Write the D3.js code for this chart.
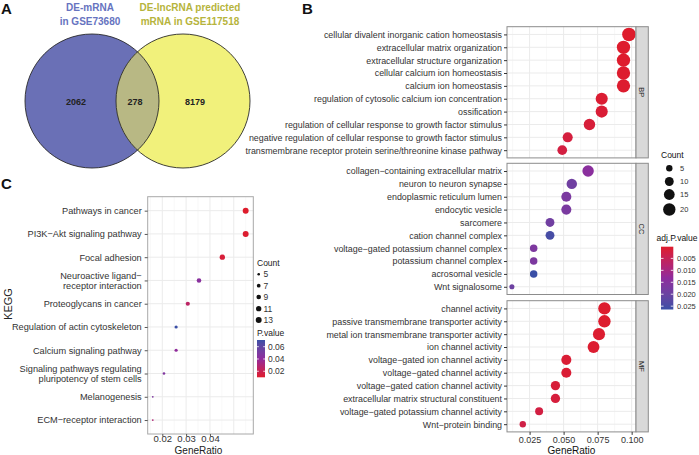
<!DOCTYPE html>
<html><head><meta charset="utf-8">
<script src="https://cdn.jsdelivr.net/npm/d3@7"></script>
<style>body{margin:0;background:#fff} svg{display:block;font-family:"Liberation Sans",Arial,sans-serif}</style>
</head><body><svg id="c" width="699" height="455"></svg>
<script>
// ---------------- DATA ----------------
const vennTitles1 = ["DE-mRNA", "in GSE73680"];
const vennTitles2 = ["DE-lncRNA predicted", "mRNA in GSE117518"];
const vennCounts = [2062, 278, 8179];

const bpTerms = ["cellular divalent inorganic cation homeostasis","extracellular matrix organization","extracellular structure organization","cellular calcium ion homeostasis","calcium ion homeostasis","regulation of cytosolic calcium ion concentration","ossification","regulation of cellular response to growth factor stimulus","negative regulation of cellular response to growth factor stimulus","transmembrane receptor protein serine/threonine kinase pathway"];
const bpRatio = [0.098,0.094,0.094,0.094,0.094,0.078,0.078,0.069,0.053,0.049];
const bpCount = [24,23,23,23,23,19,19,17,13,12];
const bpPadj  = [0.0001,0.0002,0.0002,0.0003,0.0004,0.0008,0.0012,0.0015,0.0020,0.0024];

const ccTerms = ["collagen−containing extracellular matrix","neuron to neuron synapse","endoplasmic reticulum lumen","endocytic vesicle","sarcomere","cation channel complex","voltage−gated potassium channel complex","potassium channel complex","acrosomal vesicle","Wnt signalosome"];
const ccRatio = [0.068,0.056,0.052,0.052,0.040,0.040,0.028,0.028,0.028,0.012];
const ccCount = [17,14,13,13,10,10,7,7,7,3];
const ccPadj  = [0.0140,0.0190,0.0170,0.0172,0.0188,0.0250,0.0165,0.0168,0.0264,0.0195];

const mfTerms = ["channel activity","passive transmembrane transporter activity","metal ion transmembrane transporter activity","ion channel activity","voltage−gated ion channel activity","voltage−gated channel activity","voltage−gated cation channel activity","extracellular matrix structural constituent","voltage−gated potassium channel activity","Wnt−protein binding"];
const mfRatio = [0.080,0.080,0.076,0.072,0.052,0.052,0.044,0.044,0.032,0.020];
const mfCount = [20,20,19,18,13,13,11,11,8,5];
const mfPadj  = [0.0003,0.0003,0.0005,0.0006,0.0010,0.0010,0.0015,0.0018,0.0025,0.0030];

const facetNames = ["BP","CC","MF"];
const goTicks = [0.025,0.05,0.075,0.1];
const goCountLegend = [5,10,15,20];
const goPadjLegend = [0.005,0.010,0.015,0.020,0.025];

const keggTerms = ["Pathways in cancer","PI3K−Akt signaling pathway","Focal adhesion","Neuroactive ligand−\nreceptor interaction","Proteoglycans in cancer","Regulation of actin cytoskeleton","Calcium signaling pathway","Signaling pathways regulating\npluripotency of stem cells","Melanogenesis","ECM−receptor interaction"];
const keggRatio = [0.055,0.055,0.0452,0.0354,0.0307,0.0258,0.0258,0.0207,0.016,0.016];
const keggCount = [13,13,11,9,8,6,6,5,4,4];
const keggP     = [0.0102,0.0110,0.0135,0.0430,0.0250,0.0709,0.0400,0.0470,0.0480,0.0300];
const keggTicks = [0.02,0.03,0.04];
const keggCountLegend = [5,7,9,11,13];
const keggPLegend = [0.02,0.04,0.06];

// ---------------- HELPERS ----------------
const svg = d3.select("#c");
const defs = svg.append("defs");
const LOW = "#DE1C2C", MID = "#8E2B9D", HIGH = "#3A4FA6";
const axisCol = "#333", borderCol = "#8C8C8C";
const FONT = "Liberation Sans, Arial, sans-serif";

function panelLetter(t, x, y){
  svg.append("text").attr("x",x).attr("y",y).text(t)
    .attr("font-size",15).attr("font-weight","bold").attr("fill","#111");
}
panelLetter("A",1,14); panelLetter("B",302,14); panelLetter("C",1,189);

// ---------------- PANEL A: VENN ----------------
{
  const cy = 101, r = 67, cx1 = 92, cx2 = 183;
  defs.append("clipPath").attr("id","clipBlue").append("circle").attr("cx",cx1).attr("cy",cy).attr("r",r);
  svg.append("circle").attr("cx",cx1).attr("cy",cy).attr("r",r).attr("fill","#6A70B6");
  svg.append("circle").attr("cx",cx2).attr("cy",cy).attr("r",r).attr("fill","#F1F17B");
  svg.append("circle").attr("cx",cx2).attr("cy",cy).attr("r",r).attr("fill","#B8B884").attr("clip-path","url(#clipBlue)");
  [cx1,cx2].forEach(cx=>svg.append("circle").attr("cx",cx).attr("cy",cy).attr("r",r)
     .attr("fill","none").attr("stroke","#2a2a2a").attr("stroke-width",0.9));
  const tg = svg.append("g").attr("font-size",10).attr("font-weight","bold").attr("text-anchor","middle");
  vennTitles1.forEach((t,i)=>tg.append("text").attr("x",90).attr("y",11+i*13.5).attr("fill","#6673C0").text(t));
  vennTitles2.forEach((t,i)=>tg.append("text").attr("x",190).attr("y",11+i*13.5).attr("fill","#B6B43C").text(t));
  const nx = [76,135,195];
  vennCounts.forEach((v,i)=>svg.append("text").attr("x",nx[i]).attr("y",105).attr("text-anchor","middle")
     .attr("font-size",9).attr("font-weight","bold").attr("fill","#222").text(v));
}

// ---------------- PANEL B: GO DOTPLOT ----------------
{
  const L = 507, R = 636, SR = 648.3;
  const tops = [26.7,163.3,300.7], H = 131.2;
  const x = d3.scaleLinear().domain([0.0084,0.1032]).range([L,R]);
  const col = d3.scaleLinear().domain([0.0001,0.01325,0.0264]).range([LOW,MID,HIGH]).interpolate(d3.interpolateLab);
  const area = d3.scaleLinear().domain([3,24]).range([6.5,46]);
  const rad = c => Math.sqrt(area(c));
  const sets = [[bpTerms,bpRatio,bpCount,bpPadj],[ccTerms,ccRatio,ccCount,ccPadj],[mfTerms,mfRatio,mfCount,mfPadj]];
  sets.forEach((s,fi)=>{
    const [terms,ratio,count,padj] = s;
    const top = tops[fi], bot = top+H;
    const y = d3.scalePoint().domain(terms).range([top,bot]).padding(0.6);
    const g = svg.append("g");
    g.append("rect").attr("x",L).attr("y",top).attr("width",R-L).attr("height",H).attr("fill","#fff");
    [0.0125,0.0375,0.0625,0.0875].forEach(v=>g.append("line").attr("x1",x(v)).attr("x2",x(v)).attr("y1",top).attr("y2",bot).attr("stroke","#F3F3F3").attr("stroke-width",0.6));
    goTicks.forEach(v=>g.append("line").attr("x1",x(v)).attr("x2",x(v)).attr("y1",top).attr("y2",bot).attr("stroke","#EBEBEB").attr("stroke-width",1));
    terms.forEach(t=>g.append("line").attr("x1",L).attr("x2",R).attr("y1",y(t)).attr("y2",y(t)).attr("stroke","#EBEBEB").attr("stroke-width",1));
    g.selectAll("circle.d").data(terms.map((t,i)=>({t,r:ratio[i],c:count[i],p:padj[i]}))).enter()
      .append("circle").attr("cx",d=>x(d.r)).attr("cy",d=>y(d.t)).attr("r",d=>rad(d.c)).attr("fill",d=>col(d.p));
    g.append("rect").attr("x",L).attr("y",top).attr("width",R-L).attr("height",H).attr("fill","none").attr("stroke",borderCol).attr("stroke-width",1);
    g.append("rect").attr("x",R).attr("y",top).attr("width",SR-R).attr("height",H).attr("fill","#D9D9D9").attr("stroke",borderCol).attr("stroke-width",1);
    g.append("text").attr("transform",`translate(${(R+SR)/2-2.8},${top+H/2}) rotate(90)`).attr("text-anchor","middle")
      .attr("font-size",7.5).attr("fill","#222").text(facetNames[fi]);
    const ya = svg.append("g").attr("transform",`translate(${L},0)`).call(d3.axisLeft(y).tickSize(3).tickPadding(2));
    ya.select(".domain").remove();
    ya.selectAll("line").attr("stroke","#333");
    ya.selectAll("text").attr("font-size",8.9).attr("fill",axisCol).attr("font-family",FONT);
    if(fi===2){
      const xa = svg.append("g").attr("transform",`translate(0,${bot})`)
        .call(d3.axisBottom(x).tickValues(goTicks).tickFormat(d3.format(".3f")).tickSize(3).tickPadding(1.5));
      xa.select(".domain").remove();
      xa.selectAll("line").attr("stroke","#333");
      xa.selectAll("text").attr("font-size",9).attr("fill",axisCol).attr("font-family",FONT);
      svg.append("text").attr("x",(L+R)/2).attr("y",453.5).attr("text-anchor","middle").attr("font-size",10).attr("fill","#111").text("GeneRatio");
    }
  });
  svg.append("text").attr("x",661).attr("y",158).attr("font-size",8.5).attr("fill","#111").text("Count");
  const ly = [168.3,181.5,194.5,209.5];
  goCountLegend.forEach((c,i)=>{
    svg.append("circle").attr("cx",669.3).attr("cy",ly[i]).attr("r",rad(c)).attr("fill","#111");
    svg.append("text").attr("x",680).attr("y",ly[i]+2.6).attr("font-size",7.5).attr("fill","#333").text(c);
  });
  svg.append("text").attr("x",656.5).attr("y",241).attr("font-size",8.5).attr("fill","#111").text("adj.P.value");
  const cb = d3.scaleLinear().domain([0.0001,0.0264]).range([246.7,309.5]);
  const gr = defs.append("linearGradient").attr("id","gradB").attr("x1",0).attr("x2",0).attr("y1",0).attr("y2",1);
  d3.range(0,1.0001,0.05).forEach(t=>gr.append("stop").attr("offset",t).attr("stop-color",col(cb.invert(246.7+t*(309.5-246.7)))));
  svg.append("rect").attr("x",661).attr("y",246.7).attr("width",12.3).attr("height",309.5-246.7).attr("fill","url(#gradB)");
  goPadjLegend.forEach(v=>{
    const yy = cb(v);
    svg.append("line").attr("x1",661).attr("x2",663.5).attr("y1",yy).attr("y2",yy).attr("stroke","#fff").attr("stroke-width",0.8);
    svg.append("line").attr("x1",670.8).attr("x2",673.3).attr("y1",yy).attr("y2",yy).attr("stroke","#fff").attr("stroke-width",0.8);
    svg.append("text").attr("x",677).attr("y",yy+2.6).attr("font-size",7.5).attr("fill","#333").text(d3.format(".3f")(v));
  });
}

// ---------------- PANEL C: KEGG ----------------
{
  const L = 147.7, R = 253.3, T = 196.7, B = 434;
  const x = d3.scaleLinear().domain([0.01387,0.0582]).range([L,R]);
  const y = d3.scalePoint().domain(keggTerms).range([T,B]).padding(0.6);
  const col = d3.scaleLinear().domain([0.0102,0.04055,0.0709]).range([LOW,MID,HIGH]).interpolate(d3.interpolateLab);
  const area = d3.scaleLinear().domain([4,13]).range([0.8,8.8]);
  const rad = c => Math.sqrt(area(c));
  const g = svg.append("g");
  [0.015,0.025,0.035,0.045,0.055].forEach(v=>g.append("line").attr("x1",x(v)).attr("x2",x(v)).attr("y1",T).attr("y2",B).attr("stroke","#F3F3F3").attr("stroke-width",0.6));
  [0.02,0.03,0.04,0.05].forEach(v=>g.append("line").attr("x1",x(v)).attr("x2",x(v)).attr("y1",T).attr("y2",B).attr("stroke","#EBEBEB").attr("stroke-width",1));
  keggTerms.forEach(t=>g.append("line").attr("x1",L).attr("x2",R).attr("y1",y(t)).attr("y2",y(t)).attr("stroke","#EBEBEB").attr("stroke-width",1));
  g.selectAll("circle.d").data(keggTerms.map((t,i)=>({t,r:keggRatio[i],c:keggCount[i],p:keggP[i]}))).enter()
    .append("circle").attr("cx",d=>x(d.r)).attr("cy",d=>y(d.t)).attr("r",d=>rad(d.c)).attr("fill",d=>col(d.p));
  g.append("rect").attr("x",L).attr("y",T).attr("width",R-L).attr("height",B-T).attr("fill","none").attr("stroke","#A8A8A8").attr("stroke-width",1);
  const ya = svg.append("g").attr("transform",`translate(${L},0)`).call(d3.axisLeft(y).tickSize(3).tickPadding(3));
  ya.select(".domain").remove();
  ya.selectAll("line").attr("stroke","#555");
  ya.selectAll("text").each(function(d){
    const lines = d.split("\n");
    const t = d3.select(this).text(null).attr("font-size",9.2).attr("fill","#333").attr("font-family",FONT);
    lines.forEach((ln,i)=>t.append("tspan").attr("x",-6).attr("dy", i===0 ? `${0.32-(lines.length-1)*0.57}em` : "1.14em").text(ln));
  });
  const xa = svg.append("g").attr("transform",`translate(0,${B})`)
    .call(d3.axisBottom(x).tickValues(keggTicks).tickFormat(d3.format(".2f")).tickSize(2.5).tickPadding(0));
  xa.select(".domain").remove();
  xa.selectAll("line").attr("stroke","#555");
  xa.selectAll("text").attr("dy","0.62em").attr("font-size",9.5).attr("fill","#333").attr("font-family",FONT);
  svg.append("text").attr("x",(L+R)/2-2).attr("y",454.2).attr("text-anchor","middle").attr("font-size",10).attr("fill","#222").text("GeneRatio");
  svg.append("text").attr("transform",`translate(12,304) rotate(-90)`).attr("text-anchor","middle").attr("font-size",11).attr("fill","#222").text("KEGG");
  svg.append("text").attr("x",257).attr("y",266).attr("font-size",8.5).attr("fill","#222").text("Count");
  const ly = [274.3,285.7,297,308.7,320];
  keggCountLegend.forEach((c,i)=>{
    svg.append("circle").attr("cx",258.7).attr("cy",ly[i]).attr("r",rad(c)).attr("fill","#111");
    svg.append("text").attr("x",263.5).attr("y",ly[i]+3).attr("font-size",8.5).attr("fill","#333").text(c);
  });
  svg.append("text").attr("x",257).attr("y",336).attr("font-size",8.5).attr("fill","#222").text("P.value");
  const cb = d3.scaleLinear().domain([0.0102,0.0709]).range([377.3,340]);
  const gr = defs.append("linearGradient").attr("id","gradC").attr("x1",0).attr("x2",0).attr("y1",0).attr("y2",1);
  d3.range(0,1.0001,0.05).forEach(t=>gr.append("stop").attr("offset",t).attr("stop-color",col(cb.invert(340+t*37.3))));
  svg.append("rect").attr("x",257).attr("y",340).attr("width",8).attr("height",37.3).attr("fill","url(#gradC)");
  keggPLegend.forEach(v=>{
    const yy = cb(v);
    svg.append("line").attr("x1",257).attr("x2",258.8).attr("y1",yy).attr("y2",yy).attr("stroke","#fff").attr("stroke-width",0.8);
    svg.append("line").attr("x1",263.2).attr("x2",265).attr("y1",yy).attr("y2",yy).attr("stroke","#fff").attr("stroke-width",0.8);
    svg.append("text").attr("x",268).attr("y",yy+3).attr("font-size",8.5).attr("fill","#333").text(d3.format(".2f")(v));
  });
}
</script></body></html>
